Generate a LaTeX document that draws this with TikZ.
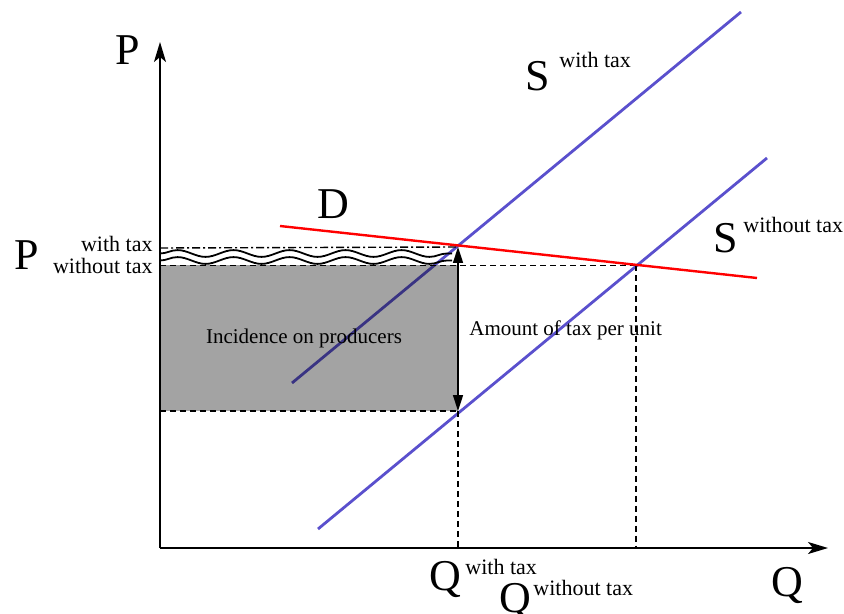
\documentclass[tikz,border=0pt]{standalone}
\usepackage{fontspec}
\setmainfont{Liberation Serif}
\usetikzlibrary{arrows.meta,decorations.pathmorphing}
\definecolor{supplyblue}{RGB}{90,80,205}
\definecolor{taxgray}{RGB}{163,163,163}

\begin{document}
\begin{tikzpicture}[
  x=0.5pt, y=-0.5pt,
  axis/.style={line width=0.9pt, -{Stealth[length=10pt,width=6pt,inset=2.5pt]}},
  supply/.style={draw=supplyblue, line width=1.4pt},
  demand/.style={draw=red, line width=1.2pt},
  guide/.style={line width=0.7pt, dash pattern=on 3pt off 2pt},
  guidedot/.style={line width=0.7pt, dash pattern=on 4pt off 1.5pt on 1pt off 1.5pt},
  wave/.style={line width=0.9pt, decorate, decoration={snake, segment length=28pt, amplitude=1.7pt}},
  taxarrow/.style={line width=0.8pt, {Triangle[length=8pt,width=5pt]}-{Triangle[length=8pt,width=5pt]}},
  big/.style={font=\fontsize{22}{22}\selectfont, inner sep=0pt},
  sub/.style={font=\fontsize{11}{11}\selectfont, inner sep=0pt},
  lbl/.style={font=\fontsize{10.5}{10.5}\selectfont, inner sep=0pt}
]
\useasboundingbox (0,0) rectangle (844,614);

% points of the market
\coordinate (O) at (160,548);
\coordinate (ytop) at (160,42);
\coordinate (xend) at (828,548);
\coordinate (E1) at (458,247);
\coordinate (E0) at (636,265.5);
\coordinate (Pw) at (160,248);
\coordinate (Pn) at (160,265.5);
\coordinate (B) at (458,411);
\coordinate (Bl) at (160,411);
\coordinate (Qw) at (458,548);
\coordinate (Qn) at (636,548);

% incidence area
\fill[taxgray] (Pn) rectangle (B);
\coordinate (w1a) at (160,253.5); \coordinate (w1b) at (452,253.5);
\coordinate (w2a) at (160,260.5); \coordinate (w2b) at (452,260.5);
\draw[wave] (w1a) -- (w1b);
\draw[wave] (w2a) -- (w2b);

% guide lines
\draw[guidedot] (Pw) -- (E1);
\draw[guide] (Pn) -- (E0);
\draw[guide] (Bl) -- (B);
\draw[guide] (B) -- (Qw);
\draw[guide] (E0) -- (Qn);

% curves
\coordinate (Sw1) at (292,383); \coordinate (Sw2) at (741,12);
\coordinate (Sn1) at (318,529); \coordinate (Sn2) at (767,158);
\coordinate (D1) at (280,226);  \coordinate (D2) at (757,278);
\begin{scope}[blend mode=multiply]
  \draw[supply] (Sw1) -- (Sw2);
  \draw[supply] (Sn1) -- (Sn2);
\end{scope}
\draw[demand] (D1) -- (D2);

\draw[taxarrow] (B) -- (E1);

% axes
\draw[axis] (O) -- (ytop);
\draw[axis] (O) -- (xend);

% labels
\node[big, anchor=base] (Paxis) at (128,65) {P};
\node[big, anchor=base] (Qaxis) at (787,596) {Q};
\node[big, anchor=base] (Dlab) at (333,219) {D};
\node[big, anchor=base] (Swt) at (538,91) {S};
\node[sub, anchor=base west] (Swtt) at (559,68) {with tax};
\node[big, anchor=base] (Snt) at (726,253) {S};
\node[sub, anchor=base west] (Sntt) at (743,233) {without tax};
\node[big, anchor=base] (Pleft) at (27,270) {P};
\node[sub, anchor=base east] (Pwt) at (153,252) {with tax};
\node[sub, anchor=base east] (Pnt) at (153,273) {without tax};
\node[big, anchor=base] (Qwt) at (445,590) {Q};
\node[sub, anchor=base west] (Qwtt) at (465,574) {with tax};
\node[big, anchor=base] (Qnt) at (515,612) {Q};
\node[sub, anchor=base west] (Qntt) at (533,595) {without tax};
\node[lbl] (inc) at (304,338) {Incidence on producers};
\node[lbl, anchor=base west] (amt) at (469,335) {Amount of tax per unit};
\end{tikzpicture}
\end{document}
